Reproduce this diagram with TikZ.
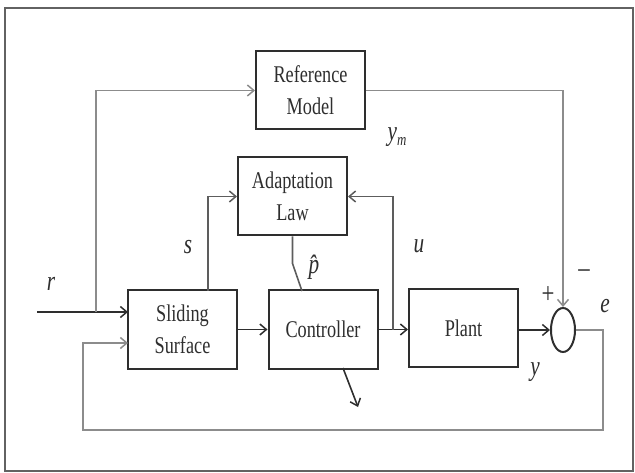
\documentclass[tikz,border=0pt]{standalone}
\usepackage{fontspec}
\setmainfont[FakeStretch=0.76]{Liberation Serif}
\usetikzlibrary{arrows.meta,shapes.geometric}
\tikzset{>={Straight Barb[length=6.5pt,width=11pt,line width=1.5pt]}}
\definecolor{ink}{HTML}{2E2E2E}
\definecolor{wire}{HTML}{8C8C8C}

\begin{document}
\begin{tikzpicture}[x=1pt,y=-1pt,
  blk/.style={draw=ink,line width=2,minimum width=109pt,minimum height=78pt,
    align=center,text=ink,font=\fontsize{24}{32}\selectfont},
  sumnode/.style={draw=ink,line width=2,ellipse,minimum width=24pt,minimum height=44pt,inner sep=0pt},
  lab/.style={text=ink,font=\fontsize{28}{28}\selectfont\itshape},
  sgn/.style={text=ink,font=\fontsize{30}{30}\selectfont}]
  \useasboundingbox (0,0) rectangle (635,473);
  % Frame
  \draw[line width=2,wire!70!black] (5,8) rectangle (633,471);

  % Blocks
  \node[blk] (refmodel) at (310.5,90.5) {Reference\\Model};
  \node[blk] (adapt) at (292.5,196.5) {Adaptation\\Law};
  \node[blk] (sliding) at (182.5,329.5) {Sliding\\Surface};
  \node[blk] (ctrl) at (323,329.5) {Controller};
  \node[blk] (plant) at (463.5,328) {Plant};
  \node[sumnode] (sum) at (563,330) {};

  % Free ends and branch points
  \coordinate (rin) at (37,312);
  \coordinate (rsplit) at (96,312);
  \coordinate (rto) at (128,312);
  \coordinate (stap) at (208,291);
  \coordinate (usplit) at (393,329.5);
  \coordinate (phat) at (302,291);
  \coordinate (ctrlbot) at (343,368);
  \coordinate (ctrlout) at (358,407);
  \coordinate (fbr) at (603,430);
  \coordinate (fbl) at (83,430);
  \coordinate (fbto) at (128,343);

  % Reference branch
  \draw[line width=2,ink,->] (rin) -- (rto);
  \draw[line width=1.6,wire,->] (rsplit) |- (refmodel.west);
  \draw[line width=1.6,wire,->] (refmodel.east) -| (sum.north);

  % Forward path
  \draw[line width=1.6,ink,->] (sliding) -- (ctrl);
  \draw[line width=1.6,ink,->] (ctrl.east) -- (ctrl.east -| plant.west);
  \draw[line width=1.6,ink,->] (plant.east |- sum) -- (sum.west);
  \draw[line width=1.6,ink,->] (ctrlbot) -- (ctrlout);

  % Adaptation loop
  \draw[line width=1.6,wire!50!ink,->] (stap) |- (adapt.west);
  \draw[line width=1.6,wire!50!ink,->] (usplit) |- (adapt.east);
  \draw[line width=1.6,wire!50!ink] (adapt.south) -- ++(0,27) -- (phat);

  % Error feedback
  \draw[line width=1.6,wire,->] (sum.east) -| (fbr) -- (fbl) |- (fbto);

  % Signal labels
  \node[lab] (rlab) at (51,284) {r};
  \node[lab] (slab) at (188,247) {s};
  \node[lab] (ulab) at (419,246) {u};
  \node[lab] (plab) at (314,267) {\^{p}};
  \node[lab] (ymlab) at (397,137) {y\raisebox{-5pt}{\fontsize{17}{17}\selectfont m}};
  \node[lab] (elab) at (605,306) {e};
  \node[lab] (ylab) at (535,372) {y};
  \node[sgn] (plus) at (548,295) {+};
  \node[sgn] (minus) at (584,274) {\textendash};
\end{tikzpicture}
\end{document}
